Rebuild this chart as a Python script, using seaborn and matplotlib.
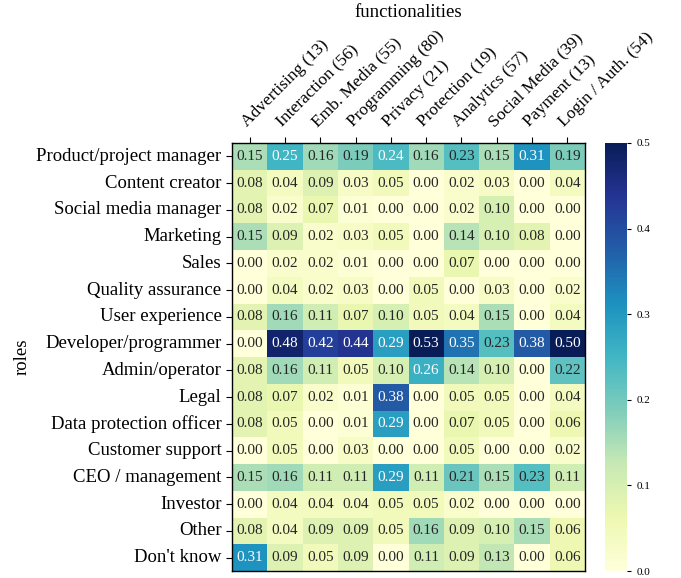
import numpy as np
import pandas as pd
import matplotlib
matplotlib.use("Agg")
import matplotlib.pyplot as plt
import seaborn as sns

# ─── Data ────────────────────────────────────────────────────────────────────

roles = [
    "Product/project manager", "Content creator", "Social media manager",
    "Marketing", "Sales", "Quality assurance", "User experience",
    "Developer/programmer", "Admin/operator", "Legal",
    "Data protection officer", "Customer support", "CEO / management",
    "Investor", "Other", "Don't know",
]

functionalities = [
    "Advertising (13)", "Interaction (56)", "Emb. Media (55)",
    "Programming (80)", "Privacy (21)", "Protection (19)",
    "Analytics (57)", "Social Media (39)", "Payment (13)",
    "Login / Auth. (54)",
]

shares = [
    [0.15, 0.25, 0.16, 0.19, 0.24, 0.16, 0.23, 0.15, 0.31, 0.19],
    [0.08, 0.04, 0.09, 0.03, 0.05, 0.00, 0.02, 0.03, 0.00, 0.04],
    [0.08, 0.02, 0.07, 0.01, 0.00, 0.00, 0.02, 0.10, 0.00, 0.00],
    [0.15, 0.09, 0.02, 0.03, 0.05, 0.00, 0.14, 0.10, 0.08, 0.00],
    [0.00, 0.02, 0.02, 0.01, 0.00, 0.00, 0.07, 0.00, 0.00, 0.00],
    [0.00, 0.04, 0.02, 0.03, 0.00, 0.05, 0.00, 0.03, 0.00, 0.02],
    [0.08, 0.16, 0.11, 0.07, 0.10, 0.05, 0.04, 0.15, 0.00, 0.04],
    [0.00, 0.48, 0.42, 0.44, 0.29, 0.53, 0.35, 0.23, 0.38, 0.50],
    [0.08, 0.16, 0.11, 0.05, 0.10, 0.26, 0.14, 0.10, 0.00, 0.22],
    [0.08, 0.07, 0.02, 0.01, 0.38, 0.00, 0.05, 0.05, 0.00, 0.04],
    [0.08, 0.05, 0.00, 0.01, 0.29, 0.00, 0.07, 0.05, 0.00, 0.06],
    [0.00, 0.05, 0.00, 0.03, 0.00, 0.00, 0.05, 0.00, 0.00, 0.02],
    [0.15, 0.16, 0.11, 0.11, 0.29, 0.11, 0.21, 0.15, 0.23, 0.11],
    [0.00, 0.04, 0.04, 0.04, 0.05, 0.05, 0.02, 0.00, 0.00, 0.00],
    [0.08, 0.04, 0.09, 0.09, 0.05, 0.16, 0.09, 0.10, 0.15, 0.06],
    [0.31, 0.09, 0.05, 0.09, 0.00, 0.11, 0.09, 0.13, 0.00, 0.06],
]

df = pd.DataFrame(shares, index=roles, columns=functionalities)

# ─── Plot ────────────────────────────────────────────────────────────────────

plt.rcParams["font.family"] = ["Liberation Serif", "DejaVu Serif"]

fig = plt.figure(figsize=(6.81, 5.78), dpi=100)
ax = fig.add_axes([0.3407, 0.0121, 0.5184, 0.7405])
cax = fig.add_axes([0.888, 0.0121, 0.033, 0.7405])

sns.heatmap(
    df, ax=ax, cbar_ax=cax, cmap="YlGnBu", vmin=0.0, vmax=0.5,
    annot=True, fmt=".2f", annot_kws={"fontsize": 11},
)

for spine in ax.spines.values():
    spine.set_visible(True)
    spine.set_color("black")
    spine.set_linewidth(1.0)

ax.xaxis.tick_top()
ax.xaxis.set_label_position("top")
ax.set_xticklabels(functionalities, rotation=45, ha="left",
                   rotation_mode="anchor", fontsize=12.5)
ax.set_yticklabels(roles, rotation=0, fontsize=13.5)
ax.set_xlabel("functionalities", fontsize=13.5, labelpad=8)
ax.set_ylabel("roles", fontsize=13.5)
ax.tick_params(length=4)
ax.tick_params(axis="x", pad=5)

cax.tick_params(labelsize=8, length=3)
cax.set_yticks([0.0, 0.1, 0.2, 0.3, 0.4, 0.5])

fig.savefig("out.png", dpi=100)
